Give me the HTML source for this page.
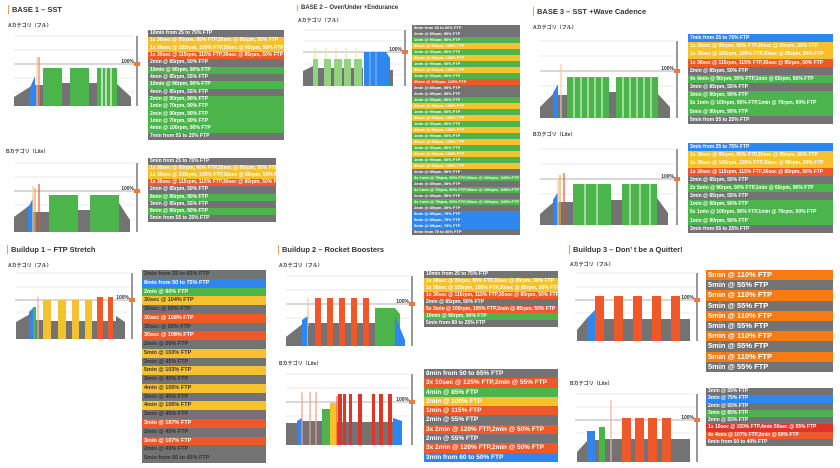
<!DOCTYPE html><html><head><meta charset="utf-8"><style>
body{margin:0;width:840px;height:468px;background:#fff;position:relative;overflow:hidden;font-family:"Liberation Sans","Noto Sans CJK JP",sans-serif}
.t{position:absolute;font-size:7.5px;font-weight:bold;color:#333;border-left:1px solid #e8a060;padding-left:3px;white-space:nowrap}
.l{position:absolute;font-size:5px;font-weight:bold;color:#444;white-space:nowrap}
.tb{position:absolute;background:#777;overflow:hidden}
.tb div{white-space:nowrap;overflow:hidden;padding-left:2px;box-sizing:border-box;font-weight:bold}
svg{position:absolute;left:0;top:0}
</style></head><body>
<div class="t" style="left:8px;top:5px">BASE 1 – SST</div>
<div class="l" style="left:8px;top:22px">Aカテゴリ（フル）</div>
<div class="l" style="left:6px;top:148px">Bカテゴリ（Lite）</div>
<div class="t" style="left:297px;top:5px;font-size:6px">BASE 2 – Over/Under +Endurance</div>
<div class="l" style="left:298px;top:17px">Aカテゴリ（フル）</div>
<div class="t" style="left:533px;top:7px">BASE 3 – SST +Wave Cadence</div>
<div class="l" style="left:533px;top:24px">Aカテゴリ（フル）</div>
<div class="l" style="left:533px;top:131px">Bカテゴリ（Lite）</div>
<div class="t" style="left:7px;top:245px">Buildup 1 – FTP Stretch</div>
<div class="l" style="left:8px;top:262px">Aカテゴリ（フル）</div>
<div class="t" style="left:278px;top:245px">Buildup 2 – Rocket Boosters</div>
<div class="l" style="left:279px;top:262px">Aカテゴリ（フル）</div>
<div class="l" style="left:279px;top:360px">Bカテゴリ（Lite）</div>
<div class="t" style="left:569px;top:245px">Buildup 3 – Don’ t be a Quitter!</div>
<div class="l" style="left:570px;top:261px">Aカテゴリ（フル）</div>
<div class="l" style="left:570px;top:380px">Bカテゴリ（Lite）</div>
<svg id="s" width="840" height="468"></svg>
<script>
var C={g:'#737373',G:'#4bb54b',y:'#f5c12e',r:'#f0582a',B:'#2f86ee',O:'#f77b12',R:'#e0332a',L:'#93d27f'};
var s='';
function R(x0,x1,t,b,c){s+='<rect x="'+x0+'" y="'+t+'" width="'+(x1-x0)+'" height="'+(b-t)+'" fill="'+C[c]+'"/>';}
function P(x0,x1,t0,t1,b,c){s+='<polygon points="'+x0+','+b+' '+x0+','+t0+' '+x1+','+t1+' '+x1+','+b+'" fill="'+C[c]+'"/>';}
function V(x,t,b,col){s+='<line x1="'+x+'" y1="'+t+'" x2="'+x+'" y2="'+b+'" stroke="'+col+'" stroke-width="1.2"/>';}
function frame(x0,ax,top,bot,grids,h100){grids.forEach(function(g){s+='<line x1="'+x0+'" y1="'+g+'" x2="'+(ax-2)+'" y2="'+g+'" stroke="#e4e4e4" stroke-width="0.7"/>';});
s+='<line x1="'+x0+'" y1="'+h100+'" x2="'+(ax-2)+'" y2="'+h100+'" stroke="#999" stroke-width="0.8"/>';
s+='<line x1="'+ax+'" y1="'+top+'" x2="'+ax+'" y2="'+bot+'" stroke="#555" stroke-width="1.2"/>';
s+='<text x="'+(ax-3)+'" y="'+(h100-1)+'" font-size="5" font-weight="bold" text-anchor="end" fill="#333">100%</text>';
s+='<polygon points="'+(ax-3)+','+(h100-2)+' '+(ax+3)+','+(h100-2)+' '+(ax+3)+','+(h100+2)+' '+(ax-3)+','+(h100+2)+'" fill="#ee7a3a"/>';}
// BASE1 A
frame(14,137,36,106,[36,50,78,92],64);
P(14,33,97,85,106,'g');P(29,35,90,76,106,'B');R(35,43,85,106,'g');V(37,58,106,'#f5c9a0');V(39,57,106,'#f08050');
R(43,62,68,106,'G');R(62,70,83,106,'g');R(70,89,68,106,'G');R(89,97,83,106,'g');R(97,117,68,106,'G');V(102,68,106,'#fff');V(106,68,106,'#fff');V(111,68,106,'#fff');P(117,131,84,97,106,'g');
// BASE1 B
frame(14,137,163,232,[163,177,205,219],191);
P(14,30,217,205,232,'g');P(28,33,208,198,232,'B');R(33,49,212,232,'g');V(33,186,232,'#f5c9a0');V(35,188,232,'#f0a040');V(39,184,232,'#e8502a');
R(49,78,195,232,'G');R(78,90,210,232,'g');R(90,119,195,232,'G');P(119,130,203,220,232,'g');
// BASE2 A
frame(303,405,30,86,[30,41,64,75],52);
P(303,313,71,66,86,'g');R(313,363,68,86,'g');
[[313,318],[324,331],[334,342],[344,351],[354,362]].forEach(function(b){R(b[0],b[1],59,86,'L');V(b[0]+2,48,59,'#f7e2a0');});
R(364,386,52,86,'B');V(370,52,86,'#7ab4f5');V(376,52,86,'#7ab4f5');P(386,390,52,58,86,'B');R(390,393,70,86,'g');
// BASE3 A
frame(540,677,41,118,[41,56,86,101],71);
P(540,557,107,90,118,'g');P(553,558,93,84,118,'B');R(558,567,95,118,'g');V(561,64,118,'#f5c9a0');
R(567,609,77,118,'G');R(609,616,92,118,'g');R(616,658,77,118,'G');[574,581,588,595,602,623,630,637,644,651].forEach(function(x){V(x,77,118,'#dff0dc');});P(658,670,94,107,118,'g');
// BASE3 B
frame(540,677,149,225,[149,164,194,209],179);
P(540,556,214,200,225,'g');P(553,558,200,192,225,'B');R(558,573,202,225,'g');V(558,178,225,'#f5c9a0');V(560,175,225,'#f0a040');V(564,173,225,'#e8502a');
R(573,611,184,225,'G');R(611,622,200,225,'g');R(622,657,184,225,'G');[585,597,630,640,650].forEach(function(x){V(x,184,225,'#dff0dc');});P(657,668,198,213,225,'g');
// Buildup1
frame(15,132,273,339,[273,287,312],300);
P(16,30,322,314,339,'g');P(29,34,312,307,339,'B');R(33,36,307,339,'G');R(36,43,320,339,'g');V(38,297,339,'#f0b0a0');
R(43,116,321,339,'g');[[43,51],[58,66],[72,79],[85,92]].forEach(function(b){R(b[0],b[1],300,339,'y');});[[97,103],[108,113]].forEach(function(b){R(b[0],b[1],297,339,'r');});
P(116,125,316,322,339,'g');
// Buildup2 A
frame(286,412,276,346,[276,290,318],304);
P(286,305,337,322,346,'g');P(302,308,320,316,346,'B');R(308,375,323,346,'g');V(308,298,346,'#f5c9a0');R(308,316,326,346,'g');
[315,327,339,351,363].forEach(function(x){R(x,x+6,298,346,'r');});R(375,395,308,346,'G');P(395,400,308,314,346,'G');P(395,405,316,340,346,'B');
// Buildup2 B
frame(286,412,374,445,[374,388,416],402);
R(286,297,423,445,'g');P(297,302,421,418,445,'B');R(302,322,421,445,'g');[302,310,316].forEach(function(x){V(x,392,445,'#f0a090');});
R(322,330,409,445,'G');R(330,337,403,445,'y');V(337,396,445,'#f06040');R(337,393,422,445,'g');
[[338,342],[343,346],[349,352],[358,362],[372,375],[379,383],[388,392]].forEach(function(b){R(b[0],b[1],394,445,'R');});P(393,402,418,421,445,'B');
// Buildup3 A
frame(575,697,273,341,[273,287,313],300);
P(577,587,330,318,341,'g');P(587,595,318,310,341,'B');R(595,690,319,341,'g');[595,614,633,652,671].forEach(function(x){R(x,x+9,296,341,'r');});
// Buildup3 B
frame(575,697,394,462,[394,407,433,448],420);
P(577,587,452,441,462,'g');R(587,595,431,462,'B');R(595,599,440,462,'g');R(599,605,427,462,'G');R(605,690,439,462,'g');V(611,400,462,'#f0b0a0');
[622,635,648,662].forEach(function(x){R(x,x+9,418,462,'r');});P(671,690,440,445,462,'g');
document.getElementById('s').innerHTML=s;

function T(x,y,w,h,fs,rows,dark){var d=document.createElement('div');d.className='tb';d.style.cssText='left:'+x+'px;top:'+y+'px;width:'+w+'px;height:'+h+'px';var rh=h/rows.length;
rows.forEach(function(r){var e=document.createElement('div');var c=r[0];e.style.cssText='height:'+rh+'px;line-height:'+rh+'px;font-size:'+fs+'px;background:'+C[c]+';color:'+(dark&&(c=='g'||c=='y')?'#333':'#fff');e.textContent=r.slice(2);d.appendChild(e);});document.body.appendChild(d);}
var y1='y|1x 30sec @ 95rpm, 95% FTP,30sec @ 85rpm, 50% FTP',y2='y|1x 30sec @ 105rpm, 105% FTP,30sec @ 85rpm, 50% FTP',r3='r|1x 30sec @ 115rpm, 115% FTP,30sec @ 85rpm, 50% FTP';
T(148,30,136,110,5,['g|10min from 25 to 75% FTP',y1,y2,r3,'g|2min @ 85rpm, 50% FTP','G|10min @ 90rpm, 90% FTP','g|4min @ 85rpm, 55% FTP','G|10min @ 90rpm, 90% FTP','g|4min @ 85rpm, 55% FTP','G|2min @ 90rpm, 90% FTP','G|1min @ 70rpm, 90% FTP','G|2min @ 90rpm, 90% FTP','G|1min @ 70rpm, 90% FTP','G|4min @ 100rpm, 90% FTP','g|7min from 55 to 25% FTP']);
T(148,158,128,64,5,['g|5min from 25 to 75% FTP',y1,y2,r3,'g|2min @ 85rpm, 50% FTP','G|8min @ 90rpm, 90% FTP','g|3min @ 85rpm, 55% FTP','G|8min @ 90rpm, 90% FTP','g|5min from 55 to 25% FTP']);
var b2='ggGyGyGyGrggGyGyGyGyGyGygGgGgGgBBBg'.split(''),bt={g:'2min @ 85rpm, 55% FTP',G:'1min @ 90rpm, 90% FTP',y:'30sec @ 95rpm, 105% FTP',r:'30sec @ 100rpm, 115% FTP',B:'5min @ 85rpm, 75% FTP'};
var b2r=b2.map(function(c,i){return c+'|'+(i==0?'5min from 40 to 60% FTP':i==34?'5min from 75 to 40% FTP':(i>24&&c=='G'?'3x 1min @ 75rpm, 90% FTP,30sec @ 100rpm, 105% FTP':bt[c]));});
T(412,25,108,210,4,b2r);
T(688,34,145,90,5,['B|7min from 25 to 75% FTP',y1,y2,r3,'g|2min @ 85rpm, 50% FTP','G|4x 4min @ 90rpm, 90% FTP,1min @ 65rpm, 90% FTP','g|3min @ 85rpm, 55% FTP','G|3min @ 90rpm, 90% FTP','G|5x 1min @ 100rpm, 90% FTP,1min @ 70rpm, 90% FTP','G|5min @ 90rpm, 90% FTP','g|5min from 55 to 25% FTP']);
T(688,143,145,90,5,['B|3min from 25 to 75% FTP',y1,y2,r3,'g|2min @ 85rpm, 50% FTP','G|2x 5min @ 90rpm, 90% FTP,1min @ 65rpm, 90% FTP','g|3min @ 85rpm, 55% FTP','G|1min @ 90rpm, 90% FTP','G|5x 1min @ 100rpm, 90% FTP,1min @ 70rpm, 90% FTP','G|1min @ 90rpm, 90% FTP','g|3min from 55 to 25% FTP']);
T(142,270,124,193,5.5,['g|2min from 25 to 65% FTP','B|8min from 50 to 75% FTP','G|2min @ 90% FTP','y|30sec @ 104% FTP','g|30sec @ 50% FTP','r|30sec @ 108% FTP','g|30sec @ 50% FTP','r|30sec @ 108% FTP','g|2min @ 50% FTP','y|5min @ 103% FTP','g|3min @ 45% FTP','y|5min @ 103% FTP','g|3min @ 45% FTP','y|4min @ 105% FTP','g|3min @ 45% FTP','y|4min @ 105% FTP','g|3min @ 45% FTP','r|3min @ 107% FTP','g|2min @ 45% FTP','r|3min @ 107% FTP','g|2min @ 40% FTP','g|5min from 60 to 45% FTP'],true);
T(424,271,134,56,5,['g|10min from 25 to 75% FTP',y1,y2,r3,'g|2min @ 85rpm, 50% FTP','r|5x 2min @ 100rpm, 105% FTP,2min @ 85rpm, 50% FTP','G|10min @ 90rpm, 90% FTP','g|5min from 80 to 25% FTP']);
T(424,369,134,93,6.5,['g|8min from 50 to 65% FTP','r|3x 10sec @ 125% FTP,2min @ 55% FTP','G|4min @ 85% FTP','y|2min @ 100% FTP','r|1min @ 115% FTP','g|2min @ 55% FTP','r|3x 2min @ 120% FTP,2min @ 50% FTP','g|2min @ 55% FTP','r|3x 2min @ 120% FTP,2min @ 50% FTP','B|3min from 60 to 50% FTP']);
T(706,270,127,102,7.5,['O|5min @ 110% FTP','g|5min @ 55% FTP','O|5min @ 110% FTP','g|5min @ 55% FTP','O|5min @ 110% FTP','g|5min @ 55% FTP','O|5min @ 110% FTP','g|5min @ 55% FTP','O|5min @ 110% FTP','g|5min @ 55% FTP']);
T(706,388,127,58,5,['g|3min @ 55% FTP','B|3min @ 75% FTP','g|2min @ 55% FTP','G|3min @ 85% FTP','g|2min @ 55% FTP','R|1x 10sec @ 150% FTP,4min 50sec @ 55% FTP','r|4x 4min @ 107% FTP,2min @ 50% FTP','g|6min from 50 to 40% FTP']);
</script>
</body></html>
